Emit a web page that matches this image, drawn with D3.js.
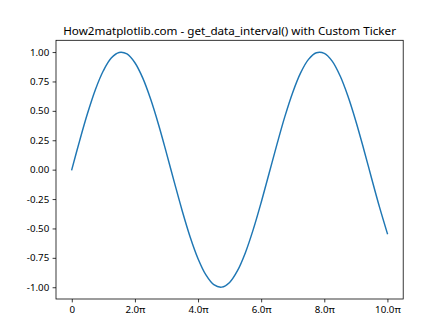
<!DOCTYPE html>
<html>
<head>
<meta charset="utf-8">
<script src="https://cdn.jsdelivr.net/npm/d3@7"></script>
<style>
  body { margin: 0; background: #fff; }
  text { font-family: "Noto Sans", "DejaVu Sans", sans-serif; fill: #000; }
</style>
</head>
<body>
<div id="chart"></div>
<script>
let xValues = [0, 0.25, 0.5, 0.75, 1, 1.25, 1.5, 1.75, 2, 2.25, 2.5, 2.75, 3, 3.25, 3.5, 3.75,
  4, 4.25, 4.5, 4.75, 5, 5.25, 5.5, 5.75, 6, 6.25, 6.5, 6.75, 7, 7.25, 7.5, 7.75,
  8, 8.25, 8.5, 8.75, 9, 9.25, 9.5, 9.75, 10];
let yValues = [0, 0.247, 0.479, 0.682, 0.841, 0.949, 0.997, 0.984, 0.909, 0.778, 0.598, 0.382,
  0.141, -0.108, -0.351, -0.572, -0.757, -0.895, -0.978, -0.999, -0.959, -0.859, -0.706,
  -0.508, -0.279, -0.033, 0.215, 0.451, 0.657, 0.823, 0.938, 0.994, 0.989, 0.923, 0.798,
  0.624, 0.412, 0.174, -0.075, -0.319, -0.544];
let xTicks = [0, 2, 4, 6, 8, 10];
let xTickLabels = ['0', '2.0π', '4.0π', '6.0π', '8.0π', '10.0π'];
let yTicks = [-1, -0.75, -0.5, -0.25, 0, 0.25, 0.5, 0.75, 1];
let title = 'How2matplotlib.com - get_data_interval() with Custom Ticker';

let W = 448, H = 336;
let margin = { top: 40.3, right: 44.8, bottom: 37, left: 56 };
let width = W - margin.left - margin.right;
let height = H - margin.top - margin.bottom;

let data = xValues.map((x, i) => ({ x: x, y: yValues[i] }));

let xscale = d3.scaleLinear().domain([-0.5, 10.5]).range([0, width]);
let yscale = d3.scaleLinear().domain([-1.1, 1.1]).range([height, 0]);

let svg = d3
  .select('#chart')
  .append('svg')
  .attr('width', W)
  .attr('height', H);

let diagram = svg
  .append('g')
  .attr('transform', `translate(${margin.left}, ${margin.top})`);

let line = d3
  .line()
  .x((d) => xscale(d.x))
  .y((d) => yscale(d.y))
  .curve(d3.curveCatmullRom);

diagram
  .append('path')
  .datum(data)
  .attr('fill', 'none')
  .attr('stroke', '#1f77b4')
  .attr('stroke-width', 1.46)
  .attr('stroke-linecap', 'square')
  .attr('d', line);

let xAxis = d3
  .axisBottom(xscale)
  .tickValues(xTicks)
  .tickFormat((d, i) => xTickLabels[i])
  .tickSize(3.4)
  .tickPadding(3.4);

let yAxis = d3
  .axisLeft(yscale)
  .tickValues(yTicks)
  .tickFormat((d) => d.toFixed(2))
  .tickSize(3.4)
  .tickPadding(3.4);

let gx = diagram
  .append('g')
  .attr('transform', `translate(0, ${height})`)
  .call(xAxis);
let gy = diagram.append('g').call(yAxis);

[gx, gy].forEach((g) => {
  g.select('.domain').remove();
  g.selectAll('line').attr('stroke', '#000').attr('stroke-width', 0.78);
  g.selectAll('text').attr('font-size', '9.72px').attr('font-family', null);
});

// frame
diagram
  .append('rect')
  .attr('width', width)
  .attr('height', height)
  .attr('fill', 'none')
  .attr('stroke', '#000')
  .attr('stroke-width', 0.78);

svg
  .append('text')
  .attr('x', margin.left + width / 2)
  .attr('y', margin.top - 5.8)
  .attr('text-anchor', 'middle')
  .attr('font-size', '11.67px')
  .text(title);
</script>
</body>
</html>
